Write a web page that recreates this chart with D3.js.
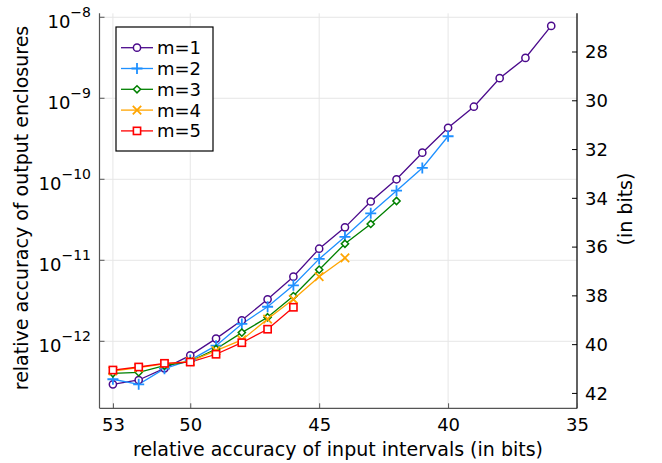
<!DOCTYPE html>
<html><head><meta charset="utf-8">
<script src="https://cdn.jsdelivr.net/npm/d3@7"></script>
<style>
body{margin:0;background:#fff;}
text{font-family:"DejaVu Sans",sans-serif;fill:#000;}
</style></head>
<body><svg id="c" width="662" height="463"></svg>
<script>
// ---- data ----
const bitsM1 = [53,52,51,50,49,48,47,46,45,44,43,42,41,40,39,38,37,36];
const valsM1 = [2.94e-13,3.33e-13,4.64e-13,6.71e-13,1.08e-12,1.82e-12,3.30e-12,6.28e-12,1.39e-11,2.55e-11,5.32e-11,1.0e-10,2.13e-10,4.33e-10,7.87e-10,1.77e-9,3.15e-9,7.82e-9];
const bitsM2 = [53,52,51,50,49,48,47,46,45,44,43,42,41,40];
const valsM2 = [3.40e-13,2.94e-13,4.59e-13,5.87e-13,8.83e-13,1.64e-12,2.67e-12,4.91e-12,1.04e-11,1.95e-11,3.80e-11,7.23e-11,1.38e-10,3.40e-10];
const bitsM3 = [53,52,51,50,49,48,47,46,45,44,43,42];
const valsM3 = [4.03e-13,4.14e-13,5.00e-13,5.66e-13,8.04e-13,1.28e-12,1.98e-12,3.62e-12,7.66e-12,1.60e-11,2.81e-11,5.40e-11];
const bitsM4 = [53,52,51,50,49,48,47,46,45,44];
const valsM4 = [4.30e-13,4.72e-13,5.25e-13,5.66e-13,7.66e-13,1.04e-12,1.88e-12,3.30e-12,6.28e-12,1.07e-11];
const bitsM5 = [53,52,51,50,49,48,47,46];
const valsM5 = [4.42e-13,4.82e-13,5.35e-13,5.54e-13,6.92e-13,9.61e-13,1.41e-12,2.63e-12];
const seriesNames = ["m=1","m=2","m=3","m=4","m=5"];
const xTicks = [53,50,45,40,35];
const yTickExps = [-8,-9,-10,-11,-12];
const rightTicks = [28,30,32,34,36,38,40,42];

const colors = ["#4b0a8c","#1e90ff","#008000","#ffa500","#ff0000"];
const markers = ["circle","plus","diamond","cross","square"];
const series = [
  {bits:bitsM1, vals:valsM1},{bits:bitsM2, vals:valsM2},{bits:bitsM3, vals:valsM3},
  {bits:bitsM4, vals:valsM4},{bits:bitsM5, vals:valsM5}];

const L=99.5, R=577, T=13.3, B=408.3;
const x = d3.scaleLinear().domain([53.52,35]).range([L,R]);
const y = d3.scaleLog().domain([Math.pow(10,-12.827),Math.pow(10,-7.951)]).range([B,T]);
const LOG2 = Math.log10(2);
const yb = d3.scaleLinear().domain([7.951/LOG2, 12.827/LOG2]).range([T,B]);

const svg = d3.select("#c");
// grid
const g = svg.append("g");
xTicks.forEach(t=>g.append("line").attr("x1",x(t)).attr("x2",x(t)).attr("y1",T).attr("y2",B).attr("stroke","#e6e6e6").attr("stroke-width",1));
yTickExps.forEach(e=>g.append("line").attr("x1",L).attr("x2",R).attr("y1",y(Math.pow(10,e))).attr("y2",y(Math.pow(10,e))).attr("stroke","#e6e6e6").attr("stroke-width",1));

// axes lines
svg.append("line").attr("x1",L).attr("x2",L).attr("y1",T).attr("y2",B).attr("stroke","#555").attr("stroke-width",1.2);
svg.append("line").attr("x1",L).attr("x2",R).attr("y1",B).attr("y2",B).attr("stroke","#555").attr("stroke-width",1.2);
svg.append("line").attr("x1",R).attr("x2",R).attr("y1",T).attr("y2",B).attr("stroke","#000").attr("stroke-width",1.2);

// x axis ticks + labels
const xAxis = d3.axisBottom(x).tickValues(xTicks).tickSize(-5).tickSizeOuter(0).tickFormat(d3.format("d"));
const xg = svg.append("g").attr("transform",`translate(0,${B})`).call(xAxis);
xg.select(".domain").remove();
xg.selectAll(".tick line").attr("stroke","#555");
xg.selectAll(".tick text").attr("font-size","18px").attr("font-family","DejaVu Sans").attr("fill","#000").attr("y",10).attr("dy","0.71em");

// left ticks
yTickExps.forEach(e=>{
  const yy = y(Math.pow(10,e));
  svg.append("line").attr("x1",L).attr("x2",L+5).attr("y1",yy).attr("y2",yy).attr("stroke","#555");
  const t = svg.append("text").attr("x",91).attr("y",yy+10.5).attr("text-anchor","end").attr("font-size","18px");
  t.append("tspan").text("10");
  t.append("tspan").attr("dy","-10.5").attr("font-size","14px").text("\u2212"+Math.abs(e));
});

// right axis
const ra = d3.axisRight(yb).tickValues(rightTicks).tickSize(0).tickFormat(d3.format("d"));
const rg = svg.append("g").attr("transform",`translate(${R},0)`).call(ra);
rg.select(".domain").remove();
rg.selectAll(".tick text").attr("font-size","18px").attr("font-family","DejaVu Sans").attr("fill","#000").attr("x",8);
rightTicks.forEach(b=>svg.append("line").attr("x1",R-5).attr("x2",R).attr("y1",yb(b)).attr("y2",yb(b)).attr("stroke","#000"));

// axis labels
svg.append("text").attr("x",338).attr("y",456).attr("text-anchor","middle").attr("font-size","19px").text("relative accuracy of input intervals (in bits)");
svg.append("text").attr("transform","translate(28,208) rotate(-90)").attr("text-anchor","middle").attr("font-size","19px").text("relative accuracy of output enclosures");
svg.append("text").attr("transform","translate(632,209) rotate(-90)").attr("text-anchor","middle").attr("font-size","19px").text("(in bits)");

function drawMarker(sel, type, color){
  if(type==="circle") sel.append("circle").attr("r",3.6).attr("fill","#fff").attr("stroke",color).attr("stroke-width",1.5);
  else if(type==="square") sel.append("rect").attr("x",-3.6).attr("y",-3.6).attr("width",7.2).attr("height",7.2).attr("fill","#fff").attr("stroke",color).attr("stroke-width",1.6);
  else if(type==="diamond") sel.append("path").attr("d","M0,-3.6L3.6,0L0,3.6L-3.6,0Z").attr("fill","#fff").attr("stroke",color).attr("stroke-width",1.5);
  else if(type==="plus") sel.append("path").attr("d","M-5.5,0H5.5M0,-5.5V5.5").attr("stroke",color).attr("stroke-width",1.8);
  else if(type==="cross") sel.append("path").attr("d","M-4.2,-4.2L4.2,4.2M-4.2,4.2L4.2,-4.2").attr("stroke",color).attr("stroke-width",1.8);
}

const line = d3.line().x(d=>x(d[0])).y(d=>y(d[1]));
series.forEach((s,i)=>{
  const pts = s.bits.map((b,j)=>[b,s.vals[j]]);
  svg.append("path").datum(pts).attr("d",line).attr("fill","none").attr("stroke",colors[i]).attr("stroke-width",1.3);
});
series.forEach((s,i)=>{
  const pts = s.bits.map((b,j)=>[b,s.vals[j]]);
  pts.forEach(p=>{
    const m = svg.append("g").attr("transform",`translate(${x(p[0])},${y(p[1])})`);
    drawMarker(m, markers[i], colors[i]);
  });
});

// legend
const lg = svg.append("g");
lg.append("rect").attr("x",116).attr("y",27).attr("width",97).attr("height",124).attr("fill","#fff").attr("stroke","#000").attr("stroke-width",1.2);
seriesNames.forEach((n,i)=>{
  const yy = 47.7 + i*20.8;
  lg.append("line").attr("x1",121).attr("x2",153).attr("y1",yy).attr("y2",yy).attr("stroke",colors[i]).attr("stroke-width",1.3);
  const m = lg.append("g").attr("transform",`translate(137,${yy})`);
  drawMarker(m, markers[i], colors[i]);
  lg.append("text").attr("x",157).attr("y",yy).attr("dy","0.36em").attr("font-size","18px").text(n);
});
</script></body></html>
